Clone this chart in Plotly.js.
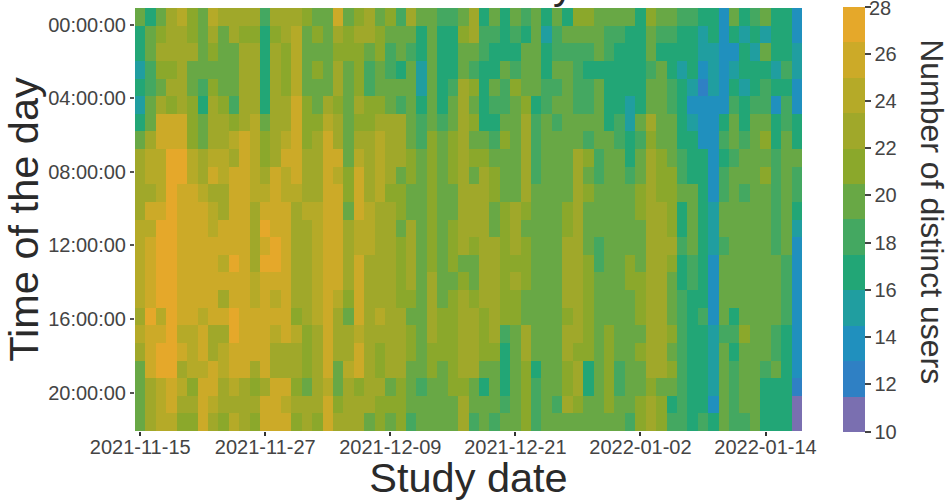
<!DOCTYPE html>
<html><head><meta charset="utf-8">
<script src="https://cdn.plot.ly/plotly-3.0.1.min.js"></script>
<style>html,body{margin:0;padding:0;background:#fff}#c{width:947px;height:501px}</style>
</head><body><div id="c"></div>
<script>
const dates = ["2021-11-15","2021-11-16","2021-11-17","2021-11-18","2021-11-19","2021-11-20","2021-11-21","2021-11-22","2021-11-23","2021-11-24","2021-11-25","2021-11-26","2021-11-27","2021-11-28","2021-11-29","2021-11-30",
"2021-12-01","2021-12-02","2021-12-03","2021-12-04","2021-12-05","2021-12-06","2021-12-07","2021-12-08","2021-12-09","2021-12-10","2021-12-11","2021-12-12","2021-12-13","2021-12-14","2021-12-15","2021-12-16","2021-12-17","2021-12-18","2021-12-19","2021-12-20","2021-12-21","2021-12-22","2021-12-23","2021-12-24","2021-12-25","2021-12-26","2021-12-27","2021-12-28","2021-12-29","2021-12-30","2021-12-31",
"2022-01-01","2022-01-02","2022-01-03","2022-01-04","2022-01-05","2022-01-06","2022-01-07","2022-01-08","2022-01-09","2022-01-10","2022-01-11","2022-01-12","2022-01-13","2022-01-14","2022-01-15","2022-01-16","2022-01-17"];
const rows = [0,1,2,3,4,5,6,7,8,9,10,11,12,13,14,15,16,17,18,19,20,21,22,23];
const xTicks = ["2021-11-15","2021-11-27","2021-12-09","2021-12-21","2022-01-02","2022-01-14"];
const yTickLabels = ["00:00:00","04:00:00","08:00:00","12:00:00","16:00:00","20:00:00"];
const yTickRows = [0.46,4.63,8.82,12.95,17.14,21.33];
const barTicks = [10,12,14,16,18,20,22,24,26,28];
const bandColors = ["#7A6FB0","#2F80C4","#2090BE","#209EA0","#22A676","#44A861","#68A845","#8BA82B","#A0A82A","#B5AA28","#CCAA28","#E5A82A"];

const row00 = [20,17,20,23,24,21,20,24,23,23,23,23,18,23,23,23,21,20,20,26,20,21,23,20,21,18,23,20,20,18,18,20,23,17,20,17,20,18,20,17,20,17,21,21,20,20,20,20,17,21,20,20,18,18,17,17,14,20,17,18,20,17,17,14];
const row01 = [17,20,21,23,23,21,20,23,20,23,21,21,17,21,23,24,20,21,20,23,21,23,23,21,20,20,20,17,20,17,17,21,23,18,18,17,18,17,20,15,18,20,20,20,20,18,18,17,17,20,18,18,17,17,15,17,14,17,15,17,15,17,17,14];
const row02 = [17,20,23,23,23,23,20,21,20,20,23,23,17,23,21,24,20,20,20,21,21,21,20,21,18,20,18,17,20,17,17,20,20,18,17,17,17,20,20,17,18,18,18,18,20,18,17,17,17,20,17,17,17,17,15,15,14,14,17,15,20,17,17,15];
const row03 = [15,18,21,21,23,20,20,20,20,20,23,23,17,23,21,24,20,21,20,23,20,21,18,20,18,17,20,15,20,17,17,20,18,17,17,20,18,20,20,17,20,20,18,17,17,17,17,17,17,18,20,17,15,17,14,15,14,15,17,17,17,15,18,15];
const row04 = [17,18,20,23,23,20,18,21,20,20,23,23,17,23,21,24,20,20,20,23,20,21,18,20,20,20,20,15,20,17,18,23,21,17,20,18,21,20,20,18,18,20,18,18,20,17,17,17,17,20,20,18,17,15,12,15,14,17,15,17,18,17,17,14];
const row05 = [15,20,23,21,23,21,17,23,21,18,23,23,17,23,23,26,21,20,23,21,20,23,21,21,20,18,20,17,20,17,20,23,20,17,18,18,20,21,17,18,20,20,18,18,20,17,17,15,17,20,20,18,17,14,14,14,14,18,17,18,18,14,18,14];
const row06 = [17,20,26,26,26,21,20,23,23,21,23,24,20,23,23,26,21,21,24,23,20,21,21,23,23,23,20,18,20,18,20,23,21,17,17,20,20,23,18,20,18,20,20,20,20,17,18,15,20,23,20,20,17,15,14,14,17,20,17,20,20,17,18,17];
const row07 = [20,23,26,26,26,21,20,23,23,24,26,24,21,23,24,26,21,23,26,23,20,23,23,24,23,23,20,18,21,20,21,23,20,20,18,21,20,23,18,20,20,20,20,18,20,20,18,17,18,21,20,20,17,17,14,14,18,20,18,20,21,17,20,17];
const row08 = [23,24,24,27,27,24,23,24,24,23,26,24,21,23,26,26,23,23,26,26,20,24,23,24,23,23,21,20,21,20,21,23,21,21,20,20,20,23,18,20,20,20,23,21,18,20,20,17,20,23,21,20,18,17,17,14,17,18,20,20,20,18,20,20];
const row09 = [23,24,24,27,27,24,23,26,24,26,26,24,23,26,24,26,23,23,26,24,21,26,23,24,23,20,21,20,21,20,21,23,20,23,21,20,20,23,18,20,20,20,23,20,18,20,20,18,20,23,21,21,18,17,17,14,18,20,20,20,21,18,20,18];
const row10 = [23,23,24,27,26,26,24,23,23,26,26,24,24,26,24,24,23,23,26,26,21,26,23,24,21,21,20,20,21,20,20,23,23,23,21,20,20,23,20,20,20,20,23,21,20,20,20,20,21,23,21,21,20,20,17,14,18,20,18,20,20,18,20,18];
const row11 = [23,26,26,27,26,26,26,24,23,26,26,23,26,26,26,23,24,24,26,26,20,26,24,23,23,21,20,20,21,20,20,23,23,23,20,21,23,21,20,20,20,21,23,20,20,20,20,20,21,23,23,21,17,20,17,15,20,20,20,20,20,18,20,17];
const row12 = [24,24,27,27,26,26,26,24,26,26,26,23,27,26,26,23,23,24,26,26,23,24,24,23,23,20,23,20,21,20,21,23,23,23,20,21,23,20,20,20,20,21,23,20,20,20,20,20,20,23,23,21,17,20,17,15,20,20,20,20,20,18,20,15];
const row13 = [24,26,27,27,26,26,26,26,26,26,26,23,26,27,26,23,23,24,26,26,23,24,24,23,23,21,23,20,21,20,21,23,21,23,23,21,23,21,20,20,20,23,23,20,18,20,20,20,20,23,23,23,18,20,17,15,18,20,20,20,20,18,20,14];
const row14 = [24,26,27,27,26,26,26,26,24,27,26,23,27,27,26,23,23,24,26,26,23,26,23,23,23,21,23,20,21,20,21,20,20,23,23,21,21,21,20,20,20,23,23,21,18,20,20,21,20,23,23,21,17,18,17,14,20,20,20,20,20,20,18,14];
const row15 = [24,26,27,27,26,26,26,26,26,26,26,24,26,26,26,23,23,24,26,26,23,26,23,23,23,21,23,20,23,20,20,21,20,23,23,21,23,21,20,20,20,23,23,21,20,20,20,21,21,23,23,20,17,18,17,14,20,20,20,20,20,20,18,14];
const row16 = [24,26,27,27,26,26,26,26,23,26,26,24,26,24,26,23,23,24,26,24,21,26,23,23,23,21,21,20,23,20,21,23,21,23,23,21,21,20,20,20,20,23,23,21,20,20,20,20,21,23,23,20,18,17,17,14,20,20,20,20,20,20,18,14];
const row17 = [23,27,24,27,26,26,24,26,26,27,26,26,26,26,26,21,23,24,26,23,20,26,23,24,23,23,20,20,23,21,21,23,23,21,23,21,21,20,20,20,20,21,23,21,20,20,20,20,21,23,23,20,18,17,18,14,20,17,20,20,20,20,18,14];
const row18 = [24,26,26,27,24,24,26,23,23,27,26,26,26,24,26,24,21,23,26,23,23,24,23,23,23,23,21,20,23,21,21,23,23,21,23,18,20,23,20,20,20,23,23,21,20,21,20,20,20,23,23,21,18,17,17,15,18,18,21,20,20,18,17,14];
const row19 = [23,26,27,27,26,24,26,23,24,26,26,26,26,23,23,23,21,23,26,23,23,26,23,21,23,23,21,20,21,21,21,23,23,21,21,17,20,23,20,20,20,23,21,21,20,21,20,20,21,23,23,20,18,17,17,15,20,17,20,20,20,18,17,14];
const row20 = [20,26,27,27,23,24,24,26,24,26,26,23,26,23,23,23,21,23,26,20,24,26,23,21,23,23,20,20,21,20,21,23,23,20,20,17,20,21,17,20,20,21,23,17,20,21,18,20,20,23,23,21,18,17,17,15,20,18,20,20,18,20,17,14];
const row21 = [20,23,24,26,24,21,26,26,23,24,23,21,23,26,26,21,20,23,24,20,23,21,23,23,20,21,20,18,20,20,21,21,20,17,20,17,20,21,18,20,20,21,23,17,20,21,18,20,20,21,20,20,18,17,17,15,20,18,20,20,17,17,17,12];
const row22 = [20,23,24,26,23,23,26,24,23,23,23,23,26,26,24,23,23,23,26,21,23,23,23,21,21,21,20,20,20,20,20,23,20,20,20,18,20,21,18,20,18,23,21,20,20,21,20,20,21,23,21,17,18,17,17,14,20,18,20,20,17,17,17,11];
const row23 = [20,23,24,24,21,21,26,23,21,24,23,21,26,26,26,21,23,21,26,23,23,23,20,21,20,21,18,20,20,20,20,23,18,20,18,20,20,21,18,20,20,20,20,20,20,20,20,18,21,23,21,18,18,17,18,17,20,18,18,20,17,17,17,11];
const users = [row00,row01,row02,row03,row04,row05,row06,row07,row08,row09,row10,row11,row12,row13,row14,row15,row16,row17,row18,row19,row20,row21,row22,row23];

const n = bandColors.length;
const colorscale = [];
bandColors.forEach((c,i)=>{colorscale.push([i/n,c]);colorscale.push([(i+1)/n,c]);});
const font = 'Liberation Sans, Arial, sans-serif';

Plotly.newPlot('c',[{
  type:'heatmap', x:dates, y:rows, z:users, zmin:10, zmax:28, colorscale, zsmooth:false,
  colorbar:{x:1.0614, xanchor:'left', xpad:0, ypad:0, y:0.5, yanchor:'middle', len:1.003, thickness:22,
    outlinewidth:0, tickmode:'array', tickvals:barTicks, ticks:'outside', ticklen:6, tickwidth:1.5, tickcolor:'#444',
    tickfont:{family:font,size:20,color:'#444'}}
}],{
  width:947, height:501, margin:{l:134.5,r:145,t:7.3,b:69.5}, paper_bgcolor:'#fff', plot_bgcolor:'#fff',
  font:{family:font},
  xaxis:{type:'category', tickmode:'array', tickvals:xTicks, ticktext:xTicks, ticks:'outside', ticklen:4, tickwidth:2, tickcolor:'#333',
    tickfont:{family:font,size:20,color:'#444'}, showgrid:false, zeroline:false, showline:false, tickangle:0, ticklabelstandoff:-6,
    title:{text:'Study date', font:{family:font,size:41.5,color:'#2a2a2a'}, standoff:5}},
  yaxis:{range:[23.5,-0.5], tickmode:'array', tickvals:yTickRows, ticktext:yTickLabels, ticks:'outside', ticklen:4, tickwidth:1.5, tickcolor:'#555',
    tickfont:{family:font,size:20,color:'#444'}, showgrid:false, zeroline:false, showline:false,
    title:{text:'Time of the day', font:{family:font,size:41.5,color:'#2a2a2a'}, standoff:6}},
  annotations:[
    {text:'y', xref:'paper', yref:'paper', x:0.642, y:1.0, xanchor:'center', yanchor:'bottom', yshift:-2, showarrow:false,
      font:{family:font,size:41,color:'#2a2a2a'}},
    {text:'Number of distinct users', textangle:90, xref:'paper', yref:'paper', x:1.1945, y:0.518, xanchor:'center', yanchor:'middle', showarrow:false,
      font:{family:font,size:32,color:'#333'}},
    {text:'28', xref:'paper', yref:'paper', x:1.0975, y:1.0, xanchor:'left', yanchor:'middle', showarrow:false,
      font:{family:font,size:20,color:'#444'}}
  ]
},{displayModeBar:false,responsive:false});
</script></body></html>
